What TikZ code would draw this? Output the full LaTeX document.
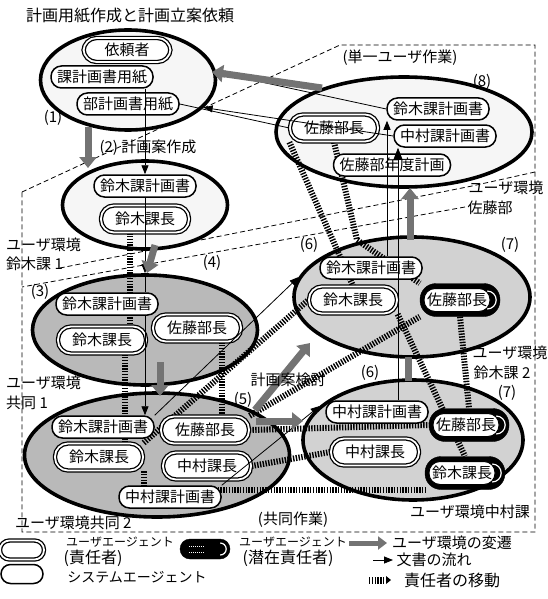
\documentclass[tikz,border=0pt]{standalone}
\usepackage{fontspec}
\setmainfont{Noto Sans CJK JP}
\usetikzlibrary{shapes.misc,shapes.geometric,arrows.meta,calc}
\pgfdeclarelayer{bgl}
\pgfdeclarelayer{envl}
\pgfdeclarelayer{connl}
\pgfsetlayers{bgl,envl,connl,main}
\tikzset{
 f15/.style={font=\fontsize{15}{17}\selectfont},
 lab/.style={f15, inner sep=0pt},
 envb/.style={ellipse, draw, line width=3.6pt, inner sep=0pt},
 sysag/.style={rectangle, rounded corners=10.5pt, draw, line width=1.5pt, fill=white, f15, minimum height=22pt, inner xsep=6pt, inner ysep=0pt},
 usrag/.style={rectangle, rounded corners=13pt, draw, double, double distance=1.8pt, line width=1.3pt, fill=white, f15, minimum height=27pt, minimum width=88pt, inner ysep=0pt},
 latin/.style={rectangle, rounded corners=11pt, draw, line width=1pt, fill=white, f15, minimum height=23pt, inner xsep=3pt, inner ysep=0pt},
 latout/.style={rectangle, rounded corners=16pt, fill=black, draw=black, minimum height=33pt, inner xsep=10pt, f15},
 doc/.style={line width=0.8pt, -{Triangle[length=9pt,width=7pt]}},
 trans/.style={line width=7pt, draw=black!55, -{Triangle[length=11pt,width=17pt]}},
 resp/.style={line width=6pt, dash pattern=on 1.4pt off 1.4pt},
 dsh/.style={line width=0.8pt, dash pattern=on 5pt off 3pt},
}
\newcommand{\latag}[3]{%
 \node[latout] (#1o) at ($(#2)+(3,0)$) {\phantom{#3}};
 \node[latin] (#1) at (#2) {#3};
 \draw[white, line width=1.2pt] ($(#1o.east)+(-13,-9)$) arc[start angle=-90, end angle=90, radius=9];
}
\begin{document}
\begin{tikzpicture}[x=1pt,y=-1pt]
\useasboundingbox (0,0) rectangle (547,599);
\begin{pgfonlayer}{bgl}
\fill[white] (0,0) rectangle (547,599);
\coordinate (fA) at (340,45);
\coordinate (fB) at (535,45);
\coordinate (fC) at (535,532);
\coordinate (fD) at (22,532);
\coordinate (fE) at (22,192);
\draw[dsh] (fE) -- (fA) -- (fB) -- (fC) -- (fD) -- cycle;
\coordinate (pA) at (535,172);
\coordinate (pB) at (472,186);
\coordinate (pC) at (60,268);
\draw[dsh] (pA) -- (pB) -- (pC);
\coordinate (qA) at (465,207);
\coordinate (qB) at (22,287);
\draw[dsh] (qA) -- (qB);
\end{pgfonlayer}

\begin{pgfonlayer}{envl}
\node[envb, fill=gray!7, minimum width=175, minimum height=100] (e1) at (128,80) {};
\node[envb, fill=gray!7, minimum width=165, minimum height=88] (e2) at (145,205) {};
\node[envb, fill=gray!55, minimum width=225, minimum height=110] (e3) at (145,330) {};
\node[envb, fill=gray!55, minimum width=265, minimum height=124] (e5) at (157,455) {};
\node[envb, fill=gray!35, minimum width=236, minimum height=120] (e6) at (412,297) {};
\node[envb, fill=gray!35, minimum width=220, minimum height=120] (e7) at (413,440) {};
\node[envb, fill=gray!7, minimum width=256, minimum height=110] (e8) at (404,132) {};
\end{pgfonlayer}

% agents
\node[usrag, minimum width=87, minimum height=24] (n1a) at (127,50) {依頼者};
\node[sysag] (n1b) at (102,77) {課計画書用紙};
\node[sysag] (n1c) at (128,104) {部計画書用紙};

\node[sysag] (n2a) at (145,186) {鈴木課計画書};
\node[usrag] (n2b) at (145,219) {鈴木課長};

\node[sysag] (n3a) at (107,304) {鈴木課計画書};
\node[usrag] (n3b) at (102,340) {鈴木課長};
\node[usrag] (n3c) at (197,328) {佐藤部長};

\node[sysag] (n5a) at (103,427) {鈴木課計画書};
\node[usrag] (n5b) at (205,430) {佐藤部長};
\node[usrag] (n5c) at (99,457) {鈴木課長};
\node[usrag] (n5d) at (207,466) {中村課長};
\node[sysag] (n5e) at (170,497) {中村課計画書};

\node[sysag] (n6a) at (371,268) {鈴木課計画書};
\node[usrag] (n6b) at (353,300) {鈴木課長};
\latag{n6c}{457,300}{佐藤部長}

\node[sysag] (n7a) at (377,412) {中村課計画書};
\latag{n7b}{466,425}{佐藤部長}
\node[usrag] (n7c) at (375,452) {中村課長};
\latag{n7d}{462,473}{鈴木課長}

\node[sysag] (n8a) at (438,109) {鈴木課計画書};
\node[usrag] (n8b) at (334,128) {佐藤部長};
\node[sysag] (n8c) at (445,136) {中村課計画書};
\node[sysag] (n8d) at (392,165) {佐藤部年度計画};

% responsibility movement
\begin{pgfonlayer}{connl}
\coordinate (rx1) at (130,0);
\coordinate (rx2) at (125,0);
\coordinate (rx3) at (222,0);
\draw[resp] (n2b.south -| rx1) -- (n3b.north -| rx1);
\draw[resp] (n3b.south -| rx2) -- (n5c.north -| rx2);
\draw[resp] (n3c.south -| rx3) -- (n5b.north -| rx3);
\draw[resp] (n5c.north east) -- (n6b.west);
\draw[resp] (n5b.north east) -- (n6co.south west);
\draw[resp] (n5b.east) -- (n7bo.west);
\draw[resp] (n5d.east) -- (n7c.west);
\draw[resp] (n5c.south east) |- (n7do.south west);
\coordinate (r9a) at (357,240);
\draw[resp] (n8b.south) -- (r9a) -- (n6co.north west);
\draw[resp] (n8b.south west) -- (n6b.north);
\draw[resp] (n6co.south) -- (n7bo.north);
\draw[resp] (n6b.south east) -- (n7do.north);
\end{pgfonlayer}

% document flow
\draw[doc] (n1b.south -| n2a.north) -- (n2a.north);
\draw[doc] (n2a.south) -- (e3.north);
\draw[line width=0.8pt] (e3.north) -- (n3a.north -| e3.north);
\draw[doc] (n3a.south -| e3.north) -- (n5a.north -| e3.north);
\draw[doc] (n5a.north east) -- (e6.170);
\draw[doc] (n5e.north east) -- (e7.160);
\draw[doc] (n8a.west) -- (e1.5);
\draw[doc] (n8c.west) -- (e1.340);
\draw[line width=0.8pt] (n1c.east) -- (n8b.west);
\coordinate (v1) at (387,0);
\coordinate (v2) at (398,0);
\draw[doc] (n6a.north -| v1) -- (n8a.south -| v1);
\draw[doc, -{Triangle[length=12pt,width=9pt]}] (n7a.north -| v2) -- (n8c.south -| v2);

% user environment transitions
\coordinate (t1a) at (88,127);  \coordinate (t1b) at (88,168);
\coordinate (t2a) at (155,245); \coordinate (t2b) at (147,273);
\coordinate (t3a) at (160,362); \coordinate (t3b) at (160,396);
\coordinate (t4a) at (255,410); \coordinate (t4b) at (310,343);
\coordinate (t5a) at (256,421); \coordinate (t5b) at (303,421);
\coordinate (t6a) at (410,240); \coordinate (t6b) at (410,188);
\coordinate (t7a) at (408,357); \coordinate (t7b) at (408,381);
\coordinate (t8a) at (322,88);  \coordinate (t8b) at (212,72);
\draw[trans] (t1a) -- (t1b);
\draw[trans] (t2a) -- (t2b);
\draw[trans] (t3a) -- (t3b);
\draw[trans] (t4a) -- (t4b);
\draw[trans] (t5a) -- (t5b);
\draw[trans] (t6a) -- (t6b);
\draw[line width=7pt, draw=black!55] (t7a) -- (t7b);
\draw[trans] (t8a) -- (t8b);

% labels
\node[lab, font=\fontsize{16}{18}\selectfont] (title) at (130,16) {計画用紙作成と計画立案依頼};
\node[lab] (l1) at (53,118) {(1)};
\node[lab] (l2) at (148,148) {(2) 計画案作成};
\node[lab] (l3) at (40,292) {(3)};
\node[lab] (l4) at (212,263) {(4)};
\node[lab] (l5) at (243,400) {(5)};
\node[lab] (l6a) at (309,245) {(6)};
\node[lab] (l7a) at (510,245) {(7)};
\node[lab] (l6b) at (370,373) {(6)};
\node[lab] (l7b) at (507,393) {(7)};
\node[lab] (l8) at (482,82) {(8)};
\node[lab] (tsingle) at (400,58) {(単一ユーザ作業)};
\node[lab] (tkyodo) at (293,520) {(共同作業)};
\node[lab, anchor=west] (u1a) at (6,245) {ユーザ環境};
\node[lab, anchor=west] (u1b) at (6,264) {鈴木課 1};
\node[lab, anchor=west] (u2a) at (6,383) {ユーザ環境};
\node[lab, anchor=west] (u2b) at (6,403) {共同 1};
\node[lab, anchor=west] (u3) at (15,523) {ユーザ環境共同 2};
\node[lab] (u4) at (470,512) {ユーザ環境中村課};
\node[lab] (u5a) at (510,353) {ユーザ環境};
\node[lab] (u5b) at (502,373) {鈴木課 2};
\node[lab] (u6a) at (506,188) {ユーザ環境};
\node[lab] (u6b) at (490,208) {佐藤部};
\node[lab] (kento) at (288,380) {計画案検討};

% legend
\node[usrag, minimum width=44, minimum height=19, rounded corners=9.5pt] (lg1) at (22,550) {};
\node[sysag, minimum width=42, minimum height=19, rounded corners=9.5pt] (lg2) at (22,574) {};
\node[latout, minimum width=50, minimum height=20, inner xsep=0pt, rounded corners=10pt] (lg3) at (205,549) {};
\draw[white, line width=1.2pt] ($(lg3.east)+(-10,-6)$) arc[start angle=-90, end angle=90, radius=6];
\draw[white, line width=0.8pt, dash pattern=on 1pt off 1pt] ($(lg3.center)+(-16,-3)$) -- ++(16,0);
\draw[white, line width=0.8pt, dash pattern=on 1pt off 1pt] ($(lg3.center)+(-16,3)$) -- ++(16,0);
\coordinate (lgta) at (349,543); \coordinate (lgtb) at (387,543);
\draw[trans, line width=5pt, -{Triangle[length=9pt,width=13pt]}] (lgta) -- (lgtb);
\coordinate (lgda) at (373,560); \coordinate (lgdb) at (393,560);
\draw[doc] (lgda) -- (lgdb);
\coordinate (lgra) at (369,580); \coordinate (lgrb) at (385,580);
\draw[resp, line width=7pt] (lgra) -- (lgrb);
\fill (386,576) -- (391,580) -- (386,584) -- cycle;
\node[lab, font=\fontsize{12}{14}\selectfont] (lgx1) at (120,542) {ユーザエージェント};
\node[lab, font=\fontsize{16}{18}\selectfont] (lgx2) at (93,558) {(責任者)};
\node[lab, font=\fontsize{14}{16}\selectfont] (lgx3) at (137,577) {システムエージェント};
\node[lab, font=\fontsize{12}{14}\selectfont] (lgx4) at (293,542) {ユーザエージェント};
\node[lab, font=\fontsize{16}{18}\selectfont] (lgx5) at (288,558) {(潜在責任者)};
\node[lab] (lgx6) at (452,543) {ユーザ環境の変遷};
\node[lab] (lgx7) at (434,560) {文書の流れ};
\node[lab, font=\fontsize{16}{18}\selectfont] (lgx8) at (452,580) {責任者の移動};
\end{tikzpicture}
\end{document}
